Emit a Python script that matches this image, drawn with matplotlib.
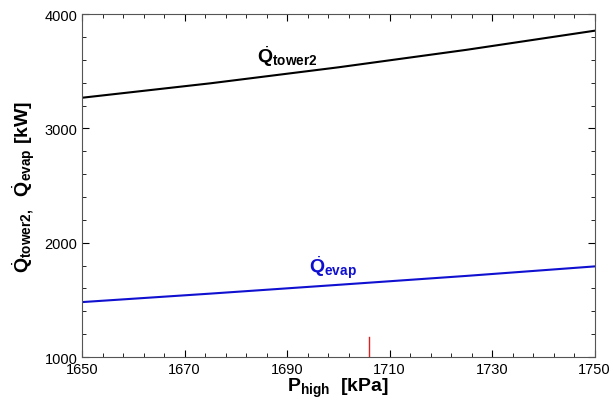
import matplotlib.pyplot as plt
from matplotlib.ticker import MultipleLocator

plt.rcParams['font.family'] = 'Liberation Sans'
plt.rcParams['mathtext.fontset'] = 'custom'
plt.rcParams['mathtext.rm'] = 'Liberation Sans'
plt.rcParams['mathtext.bf'] = 'Liberation Sans:bold'
plt.rcParams['mathtext.it'] = 'Liberation Sans:italic'

# data
p_high = [1650, 1675, 1700, 1725, 1750]
q_tower2 = [3268, 3394, 3534, 3687, 3854]
q_evap = [1481, 1555, 1632, 1710, 1793]
marker_x = [1706, 1706]
marker_y = [1000, 1175]
x_ticks = [1650, 1670, 1690, 1710, 1730, 1750]

fig = plt.figure(figsize=(6.13, 4.06), dpi=100)
ax = fig.add_axes([0.134, 0.118, 0.836, 0.845])

ax.plot(p_high, q_tower2, color='black', lw=1.5)
ax.plot(p_high, q_evap, color='#1010d0', lw=1.5)
ax.plot(marker_x, marker_y, color='#e02020', lw=1)

ax.text(1690, 3640, r'$\dot{\mathbf{Q}}_{\mathbf{tower2}}$', fontsize=14,
        ha='center', va='center', color='black')
ax.text(1699, 1790, r'$\dot{\mathbf{Q}}_{\mathbf{evap}}$', fontsize=14,
        ha='center', va='center', color='#1010d0')

ax.set_xlim(1650, 1750)
ax.set_ylim(1000, 4000)
ax.set_xticks(x_ticks)
ax.xaxis.set_minor_locator(MultipleLocator(4, offset=2))
ax.yaxis.set_major_locator(MultipleLocator(1000))
ax.yaxis.set_minor_locator(MultipleLocator(200))
ax.tick_params(which='both', direction='in', top=True, right=True, labelsize=10.5)
ax.tick_params(which='major', length=5)
ax.tick_params(which='minor', length=3)
for s in ax.spines.values():
    s.set_color('#555555')

ax.set_xlabel(r'$\mathbf{P_{high}}$  $\mathbf{[kPa]}$', fontsize=14, labelpad=0)
ax.set_ylabel(r'$\dot{\mathbf{Q}}_{\mathbf{tower2,}}$  $\dot{\mathbf{Q}}_{\mathbf{evap}}$ $\mathbf{[kW]}$',
              fontsize=14, labelpad=5)

fig.savefig('out.png', dpi=100)
